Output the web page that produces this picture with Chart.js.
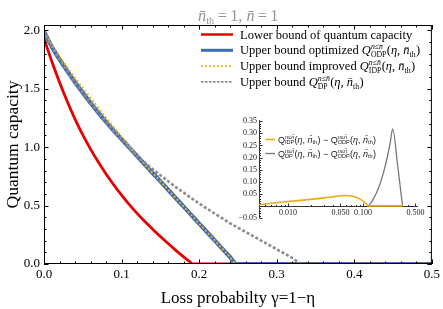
<!DOCTYPE html>
<html>
<head>
<meta charset="utf-8">
<script src="https://cdn.jsdelivr.net/npm/chart.js@4.4.1/dist/chart.umd.min.js"></script>
<style>
  html, body { margin: 0; padding: 0; background: #fff; }
  #wrap { position: relative; width: 443px; height: 309px; overflow: hidden; }
  #main { position: absolute; left: 0; top: 0; }
  #inset { position: absolute; left: 215px; top: 108px; }
</style>
</head>
<body>
<div id="wrap">
  <canvas id="main" width="443" height="309"></canvas>
  <canvas id="inset" width="225" height="120"></canvas>
</div>
<script>
// ---------------- data ----------------
const gammaLower = [0, 0.01, 0.02, 0.03, 0.04, 0.05, 0.06, 0.07, 0.08, 0.09, 0.10, 0.11, 0.12, 0.13, 0.14, 0.15, 0.16, 0.17, 0.18, 0.19, 0.191, 0.5];
const lowerBound = [1.93, 1.735, 1.555, 1.39, 1.24, 1.105, 0.983, 0.872, 0.77, 0.676, 0.589, 0.508, 0.433, 0.363, 0.298, 0.235, 0.175, 0.117, 0.061, 0.007, 0, 0];

const gammaODP = [0, 0.01, 0.02, 0.03, 0.04, 0.05, 0.06, 0.07, 0.08, 0.09, 0.10, 0.11, 0.117, 0.13, 0.14, 0.15, 0.16, 0.17, 0.18, 0.19, 0.20, 0.21, 0.22, 0.23, 0.24, 0.248, 0.5];
const upperODP = [1.99, 1.86, 1.75, 1.65, 1.555, 1.465, 1.378, 1.295, 1.215, 1.14, 1.068, 0.996, 0.945, 0.851, 0.779, 0.707, 0.635, 0.563, 0.491, 0.418, 0.346, 0.274, 0.202, 0.13, 0.058, 0, 0];

const gammaIDP = [0, 0.01, 0.02, 0.03, 0.04, 0.05, 0.06, 0.07, 0.08, 0.09, 0.10, 0.11, 0.117, 0.13, 0.14, 0.15, 0.16, 0.17, 0.18, 0.19, 0.20, 0.21, 0.22, 0.23, 0.24, 0.248, 0.5];
const upperIDP = [1.99, 1.878, 1.777, 1.683, 1.593, 1.507, 1.421, 1.336, 1.251, 1.169, 1.088, 1.005, 0.945, 0.851, 0.779, 0.707, 0.635, 0.563, 0.491, 0.418, 0.346, 0.274, 0.202, 0.13, 0.058, 0, 0];

const gammaDP = [0, 0.01, 0.02, 0.03, 0.04, 0.05, 0.06, 0.07, 0.08, 0.09, 0.10, 0.11, 0.117, 0.13, 0.14, 0.15, 0.16, 0.17, 0.18, 0.19, 0.20, 0.21, 0.22, 0.23, 0.24, 0.248, 0.26, 0.27, 0.28, 0.29, 0.30, 0.31, 0.32, 0.334, 0.5];
const upperDP = [1.99, 1.86, 1.75, 1.65, 1.555, 1.465, 1.378, 1.295, 1.215, 1.14, 1.068, 0.996, 0.945, 0.868, 0.812, 0.759, 0.708, 0.658, 0.611, 0.563, 0.518, 0.474, 0.432, 0.39, 0.348, 0.318, 0.274, 0.237, 0.2, 0.163, 0.126, 0.089, 0.052, 0, 0];

// inset: differences to the optimized bound (log gamma axis)
const insetGammaIDP = [0.0041, 0.006, 0.01, 0.02, 0.03, 0.04, 0.05, 0.06, 0.07, 0.08, 0.09, 0.10, 0.11, 0.117, 0.2, 0.34];
const diffIDP = [0.005, 0.011, 0.018, 0.027, 0.033, 0.038, 0.042, 0.043, 0.041, 0.036, 0.029, 0.02, 0.009, 0, 0, 0];
const insetGammaDP = [0.117, 0.13, 0.15, 0.17, 0.19, 0.21, 0.23, 0.248, 0.29, 0.336];
const diffDP = [0, 0.017, 0.052, 0.095, 0.145, 0.2, 0.26, 0.318, 0.164, 0];

// tick labels
const xTicks = [0, 0.1, 0.2, 0.3, 0.4, 0.5];
const yTicks = [0, 0.5, 1.0, 1.5, 2.0];
const insetXTicks = [0.01, 0.05, 0.1, 0.5];
const insetYTicks = [-0.05, 0, 0.05, 0.10, 0.15, 0.20, 0.25, 0.30, 0.35];

// ---------------- styles ----------------
const RED = '#e60000', BLUE = '#3d6cb4', YELLOW = '#efb320', GRAY = '#8c8c8c';
const SERIF = '"Liberation Serif", "Times New Roman", serif';
const SANS = '"Liberation Sans", Arial, sans-serif';

function pts(xs, ys) { return xs.map((x, i) => ({ x: x, y: ys[i] })); }

// rich text drawer (sub/superscripts, italics)
function rich(ctx, x, y, parts, size, family) {
  for (const p of parts) {
    if (p.sup !== undefined || p.sub !== undefined) {
      const s = size * 0.62;
      let w1 = 0, w2 = 0;
      if (p.sup !== undefined) {
        ctx.font = 'italic ' + s + 'px ' + family;
        ctx.fillText(p.sup, x, y - size * 0.40);
        w1 = ctx.measureText(p.sup).width;
      }
      if (p.sub !== undefined) {
        ctx.font = s + 'px ' + family;
        ctx.fillText(p.sub, x, y + size * 0.22);
        w2 = ctx.measureText(p.sub).width;
      }
      x += Math.max(w1, w2) + size * 0.03;
    } else {
      ctx.font = (p.it ? 'italic ' : '') + size + 'px ' + family;
      ctx.fillText(p.t, x, y);
      x += ctx.measureText(p.t).width;
    }
  }
  return x;
}
const NB = 'n\u0304';
function qParts(sub, qItalic) {
  return [{ t: 'Q', it: qItalic }, { sup: 'n\u2264' + NB, sub: sub }, { t: '(' }, { t: '\u03b7', it: true }, { t: ', ' }, { t: NB, it: true }, { sub: 'th' }, { t: ')' }];
}

// ---------------- main chart plugin: frame, ticks, legend, title ----------------
const mainDecor = {
  id: 'mainDecor',
  afterDatasetsDraw(chart) {
    const ctx = chart.ctx, a = chart.chartArea;
    const xs = chart.scales.x, ys = chart.scales.y;
    ctx.save();
    ctx.strokeStyle = '#000';
    ctx.lineWidth = 1;
    ctx.strokeRect(a.left + 0.5, a.top + 0.5, a.right - a.left - 1, a.bottom - a.top - 1);
    ctx.beginPath();
    for (let i = 0; i <= 25; i++) {
      const v = i * 0.02;
      const px = Math.round(xs.getPixelForValue(v)) + 0.5;
      const len = (i % 5 === 0) ? 4.5 : 2.5;
      ctx.moveTo(px, a.bottom); ctx.lineTo(px, a.bottom - len);
      ctx.moveTo(px, a.top); ctx.lineTo(px, a.top + len);
    }
    for (let i = 0; i <= 20; i++) {
      const v = i * 0.1;
      const py = Math.round(ys.getPixelForValue(v)) + 0.5;
      const len = (i % 5 === 0) ? 4.5 : 2.5;
      ctx.moveTo(a.left, py); ctx.lineTo(a.left + len, py);
      ctx.moveTo(a.right, py); ctx.lineTo(a.right - len, py);
    }
    ctx.stroke();

    // title
    ctx.fillStyle = '#959595';
    ctx.textBaseline = 'alphabetic';
    rich(ctx, 198, 20.5, [{ t: NB, it: true }, { sub: 'th' }, { t: '\u2009=\u20091, ' }, { t: NB, it: true }, { t: '\u2009=\u20091' }], 16.3, SERIF);

    // legend
    const rows = [34.5, 50.3, 66.1, 81.9];
    const items = [
      { color: RED, width: 2.5, dash: [], parts: [{ t: 'Lower bound of quantum capacity' }] },
      { color: BLUE, width: 3, dash: [], parts: [{ t: 'Upper bound optimized ' }].concat(qParts('ODP', true)) },
      { color: YELLOW, width: 1.6, dash: [2, 2], parts: [{ t: 'Upper bound improved ' }].concat(qParts('IDP', true)) },
      { color: GRAY, width: 1.6, dash: [2.5, 1.5], parts: [{ t: 'Upper bound ' }].concat(qParts('DP', true)) }
    ];
    items.forEach((it, i) => {
      const y = rows[i];
      ctx.beginPath();
      ctx.strokeStyle = it.color; ctx.lineWidth = it.width; ctx.setLineDash(it.dash);
      ctx.moveTo(201, y); ctx.lineTo(233, y); ctx.stroke();
      ctx.setLineDash([]);
      ctx.fillStyle = '#000';
      rich(ctx, 240, y + 4, it.parts, 12.5, SERIF);
    });
    ctx.restore();
  }
};

const dsCommon = { pointRadius: 0, fill: false, clip: 0, cubicInterpolationMode: 'monotone' };

new Chart(document.getElementById('main'), {
  type: 'line',
  data: {
    datasets: [
      Object.assign({ label: 'Upper bound Q_DP', data: pts(gammaDP, upperDP), borderColor: GRAY, borderWidth: 2.6, borderDash: [3, 2] }, dsCommon),
      Object.assign({ label: 'Upper bound improved Q_IDP', data: pts(gammaIDP, upperIDP), borderColor: YELLOW, borderWidth: 2, borderDash: [2, 2.2] }, dsCommon),
      Object.assign({ label: 'Upper bound optimized Q_ODP', data: pts(gammaODP, upperODP), borderColor: BLUE, borderWidth: 4.2 }, dsCommon),
      Object.assign({ label: 'Lower bound of quantum capacity', data: pts(gammaLower, lowerBound), borderColor: RED, borderWidth: 2.8 }, dsCommon)
    ]
  },
  options: {
    responsive: false, animation: false, devicePixelRatio: 1,
    layout: { padding: { top: 25, right: 11, left: 0, bottom: 0 } },
    plugins: { legend: { display: false }, tooltip: { enabled: false }, title: { display: false } },
    scales: {
      x: {
        type: 'linear', min: 0, max: 0.5,
        afterBuildTicks: s => { s.ticks = xTicks.map(v => ({ value: v })); },
        afterFit: s => { s.height = 45; },
        ticks: { callback: v => Number(v).toFixed(1), font: { family: SERIF, size: 13 }, color: '#000', padding: 3, maxRotation: 0, autoSkip: false },
        grid: { display: false, drawTicks: false }, border: { display: false },
        title: { display: true, text: 'Loss probabilty \u03b3=1\u2212\u03b7', font: { family: SERIF, size: 17 }, color: '#000', padding: { top: 0, bottom: 0 } }
      },
      y: {
        type: 'linear', min: 0, max: 2.045,
        afterBuildTicks: s => { s.ticks = yTicks.map(v => ({ value: v })); },
        afterFit: s => { s.width = 44; },
        ticks: { callback: v => Number(v).toFixed(1), font: { family: SERIF, size: 13 }, color: '#000', padding: 4, autoSkip: false },
        grid: { display: false, drawTicks: false }, border: { display: false },
        title: { display: true, text: 'Quantum capacity', font: { family: SERIF, size: 17.5 }, color: '#000', padding: { top: 3, bottom: 0 } }
      }
    }
  },
  plugins: [mainDecor]
});

// ---------------- inset ----------------
const insetDecor = {
  id: 'insetDecor',
  beforeDatasetsDraw(chart) {
    const ctx = chart.ctx, a = chart.chartArea;
    const xs = chart.scales.x, ys = chart.scales.y;
    const y0 = Math.round(ys.getPixelForValue(0)) + 0.5;
    const xl = Math.round(a.left) + 0.5;
    ctx.save();
    ctx.strokeStyle = '#333';
    ctx.lineWidth = 1;
    ctx.beginPath();
    ctx.moveTo(xl, a.top); ctx.lineTo(xl, a.bottom);
    ctx.moveTo(a.left, y0); ctx.lineTo(a.right, y0);
    for (let i = -5; i <= 35; i++) {
      const py = Math.round(ys.getPixelForValue(i * 0.01)) + 0.5;
      const len = (i % 5 === 0) ? 3 : 1.5;
      ctx.moveTo(xl, py); ctx.lineTo(xl + len, py);
    }
    const decades = [0.001, 0.01, 0.1];
    decades.forEach(d => {
      for (let k = 1; k <= 9; k++) {
        const v = d * k;
        if (v < xs.min || v > xs.max) continue;
        const px = Math.round(xs.getPixelForValue(v)) + 0.5;
        const len = (k === 1 || k === 5) ? 3 : 1.5;
        ctx.moveTo(px, y0); ctx.lineTo(px, y0 - len);
      }
    });
    ctx.stroke();
    ctx.restore();
  },
  afterDatasetsDraw(chart) {
    const ctx = chart.ctx;
    ctx.save();
    const rows = [31.5, 45.5];
    const items = [
      { color: '#e8ac17', w: 1.6, parts: qParts('IDP', false).concat([{ t: ' \u2212 ' }], qParts('ODP', false)) },
      { color: '#777', w: 1.3, parts: qParts('DP', false).concat([{ t: ' \u2212 ' }], qParts('ODP', false)) }
    ];
    items.forEach((it, i) => {
      const y = rows[i];
      ctx.beginPath(); ctx.strokeStyle = it.color; ctx.lineWidth = it.w;
      ctx.moveTo(50.5, y); ctx.lineTo(60, y); ctx.stroke();
      ctx.fillStyle = '#222';
      ctx.textBaseline = 'alphabetic';
      rich(ctx, 63, y + 3, it.parts, 9, SANS);
    });
    ctx.restore();
  }
};

new Chart(document.getElementById('inset'), {
  type: 'line',
  data: {
    datasets: [
      { label: 'IDP - ODP', data: pts(insetGammaIDP, diffIDP), borderColor: '#e8ac17', borderWidth: 1.6, pointRadius: 0, fill: false, cubicInterpolationMode: 'monotone', clip: false },
      { label: 'DP - ODP', data: pts(insetGammaDP, diffDP), borderColor: '#777', borderWidth: 1.3, pointRadius: 0, fill: false, cubicInterpolationMode: 'monotone', clip: false }
    ]
  },
  options: {
    responsive: false, animation: false, devicePixelRatio: 1,
    layout: { padding: { top: 12, right: 22, left: 0, bottom: 10 } },
    plugins: { legend: { display: false }, tooltip: { enabled: false } },
    scales: {
      x: {
        type: 'logarithmic', min: 0.0041, max: 0.54, position: { y: 0 },
        afterBuildTicks: s => { s.ticks = insetXTicks.map(v => ({ value: v })); },
        ticks: { callback: v => Number(v).toFixed(3), font: { family: SERIF, size: 8 }, color: '#222', padding: 2, maxRotation: 0, autoSkip: false },
        grid: { display: false, drawTicks: false }, border: { display: false }
      },
      y: {
        type: 'linear', min: -0.05, max: 0.355,
        afterBuildTicks: s => { s.ticks = insetYTicks.map(v => ({ value: v })); },
        afterFit: s => { s.width = 44; },
        ticks: { callback: v => (Math.abs(v) < 1e-9 ? '' : (v < 0 ? '\u2212' : '') + Math.abs(v).toFixed(2)), font: { family: SERIF, size: 8 }, color: '#222', padding: 2, autoSkip: false },
        grid: { display: false, drawTicks: false }, border: { display: false }
      }
    }
  },
  plugins: [insetDecor]
});
</script>
</body>
</html>
